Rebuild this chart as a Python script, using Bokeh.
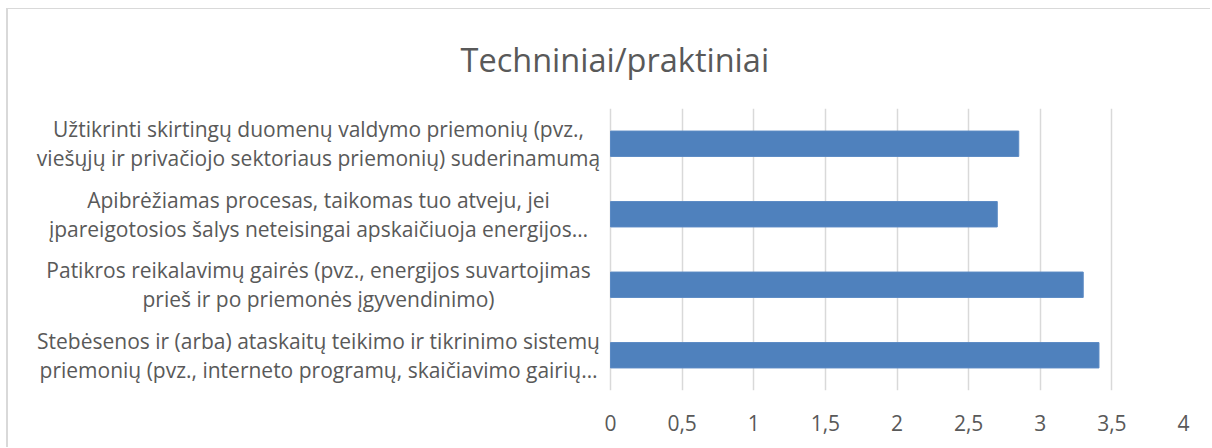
from bokeh.plotting import figure
from bokeh.models import FactorRange, Range1d, FixedTicker, LabelSet, ColumnDataSource, Title
from bokeh.core.properties import value
from bokeh.embed import file_html
from bokeh.resources import INLINE

title_text = "Techniniai/praktiniai"
categories = [
    "Stebėsenos ir (arba) ataskaitų teikimo ir tikrinimo sistemų\npriemonių (pvz., interneto programų, skaičiavimo gairių…",
    "Patikros reikalavimų gairės (pvz., energijos suvartojimas\nprieš ir po priemonės įgyvendinimo)",
    "Apibrėžiamas procesas, taikomas tuo atveju, jei\nįpareigotosios šalys neteisingai apskaičiuoja energijos…",
    "Užtikrinti skirtingų duomenų valdymo priemonių (pvz.,\nviešųjų ir privačiojo sektoriaus priemonių) suderinamumą",
]
values = [3.41, 3.3, 2.7, 2.85]
tick_values = [0, 0.5, 1, 1.5, 2, 2.5, 3, 3.5, 4]
tick_labels = ["0", "0,5", "1", "1,5", "2", "2,5", "3", "3,5", "4"]

FONT = "Open Sans"
TEXT_COLOR = "#595959"

# layout (pixels): label column width left of the value axis, value-axis width
LABEL_AREA = 602
VALUE_AREA = 573
x_max = tick_values[-1]
x_min = -x_max * LABEL_AREA / VALUE_AREA  # frame extends under the category labels

line1 = [c.split("\n")[0] for c in categories]
line2 = [c.split("\n")[1] for c in categories]
source = ColumnDataSource(data=dict(cat=categories, val=values, zero=[0] * len(values),
                                    line1=line1, line2=line2))

p = figure(
    width=1204, height=439,
    y_range=FactorRange(factors=categories),
    x_range=Range1d(x_min, x_max),
    output_backend="svg", toolbar_location=None,
    min_border_left=0, min_border_right=29,
    min_border_top=97, min_border_bottom=58,
    title=None,
)
p.styles = {"margin-left": "6px", "margin-top": "8px",
            "border-left": "2px solid #d9d9d9", "border-top": "1px solid #d9d9d9"}
p.outline_line_color = None
p.background_fill_color = "white"
p.border_fill_color = "white"

p.add_layout(Title(text=title_text, align="left", offset=452, standoff=52,
                   vertical_align="middle", text_font=FONT, text_font_size="32.5px",
                   text_font_style="normal", text_color=TEXT_COLOR), "above")

p.hbar(y="cat", right="val", left=0, height=0.36, source=source,
       fill_color="#4f81bd", line_color="#5b8ac4", line_width=1)

# category labels: two centred lines per category, left of the value area
label_style = dict(x="zero", y="cat", source=source, x_offset=-292,
                   text_align="center", text_baseline="middle",
                   text_font=value(FONT), text_font_size="21px", text_color=TEXT_COLOR)
p.add_layout(LabelSet(text="line1", y_offset=14.5, **label_style))
p.add_layout(LabelSet(text="line2", y_offset=-14.5, **label_style))

# x axis
p.xaxis.ticker = FixedTicker(ticks=tick_values)
p.xaxis.major_label_overrides = {float(v): l for v, l in zip(tick_values, tick_labels)}
p.xaxis.axis_line_color = None
p.xaxis.major_tick_line_color = None
p.xaxis.minor_tick_line_color = None
p.xaxis.major_tick_out = 0
p.xaxis.major_label_standoff = 24
p.xaxis.major_label_text_font = FONT
p.xaxis.major_label_text_font_size = "21px"
p.xaxis.major_label_text_color = TEXT_COLOR

p.yaxis.visible = False

p.xgrid.grid_line_color = "#d9d9d9"
p.xgrid.grid_line_width = 1.5
p.ygrid.grid_line_color = None

open("out.html", "w").write(file_html(p, INLINE))
